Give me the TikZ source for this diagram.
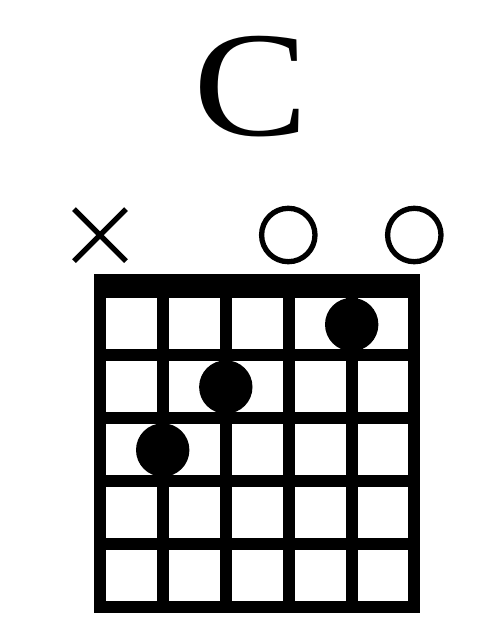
\documentclass[tikz,border=0pt]{standalone}
\usepackage{fontspec}
\setmainfont{Liberation Serif}
\begin{document}
\begin{tikzpicture}[x=1pt,y=-1pt,
  gridline/.style={line width=12pt,line cap=rect},
  fingerdot/.style={fill=black},
  openmark/.style={draw=black,line width=5.3pt},
  mutemark/.style={draw=black,line width=5.3pt}]
\useasboundingbox (0,0) rectangle (500,625);
\fill[white] (0,0) rectangle (500,625);
% chord name
\node[anchor=base west,inner sep=0pt] (title) at (193,135)
  {\scalebox{1.15}[1]{\fontsize{150}{150}\selectfont C}};
% mute / open marks
\draw[mutemark] (74,209) -- (126,261) (74,261) -- (126,209);
\draw[openmark] (288.3,235) circle[radius=26.7pt];
\draw[openmark] (414.3,235) circle[radius=26.7pt];
% nut
\fill (94,274) rectangle (420,298);
% strings
\foreach \x in {100,163,226,289,352,414.3}
  \draw[gridline] (\x,292) -- (\x,607);
% frets
\foreach \y in {355,418,481,543.7,607}
  \draw[gridline] (100,\y) -- (414.3,\y);
% finger dots
\fill[fingerdot] (351.7,324.5) circle[radius=26.7pt];
\fill[fingerdot] (225.8,387) circle[radius=26.7pt];
\fill[fingerdot] (162.7,450) circle[radius=26.7pt];
\end{tikzpicture}
\end{document}
